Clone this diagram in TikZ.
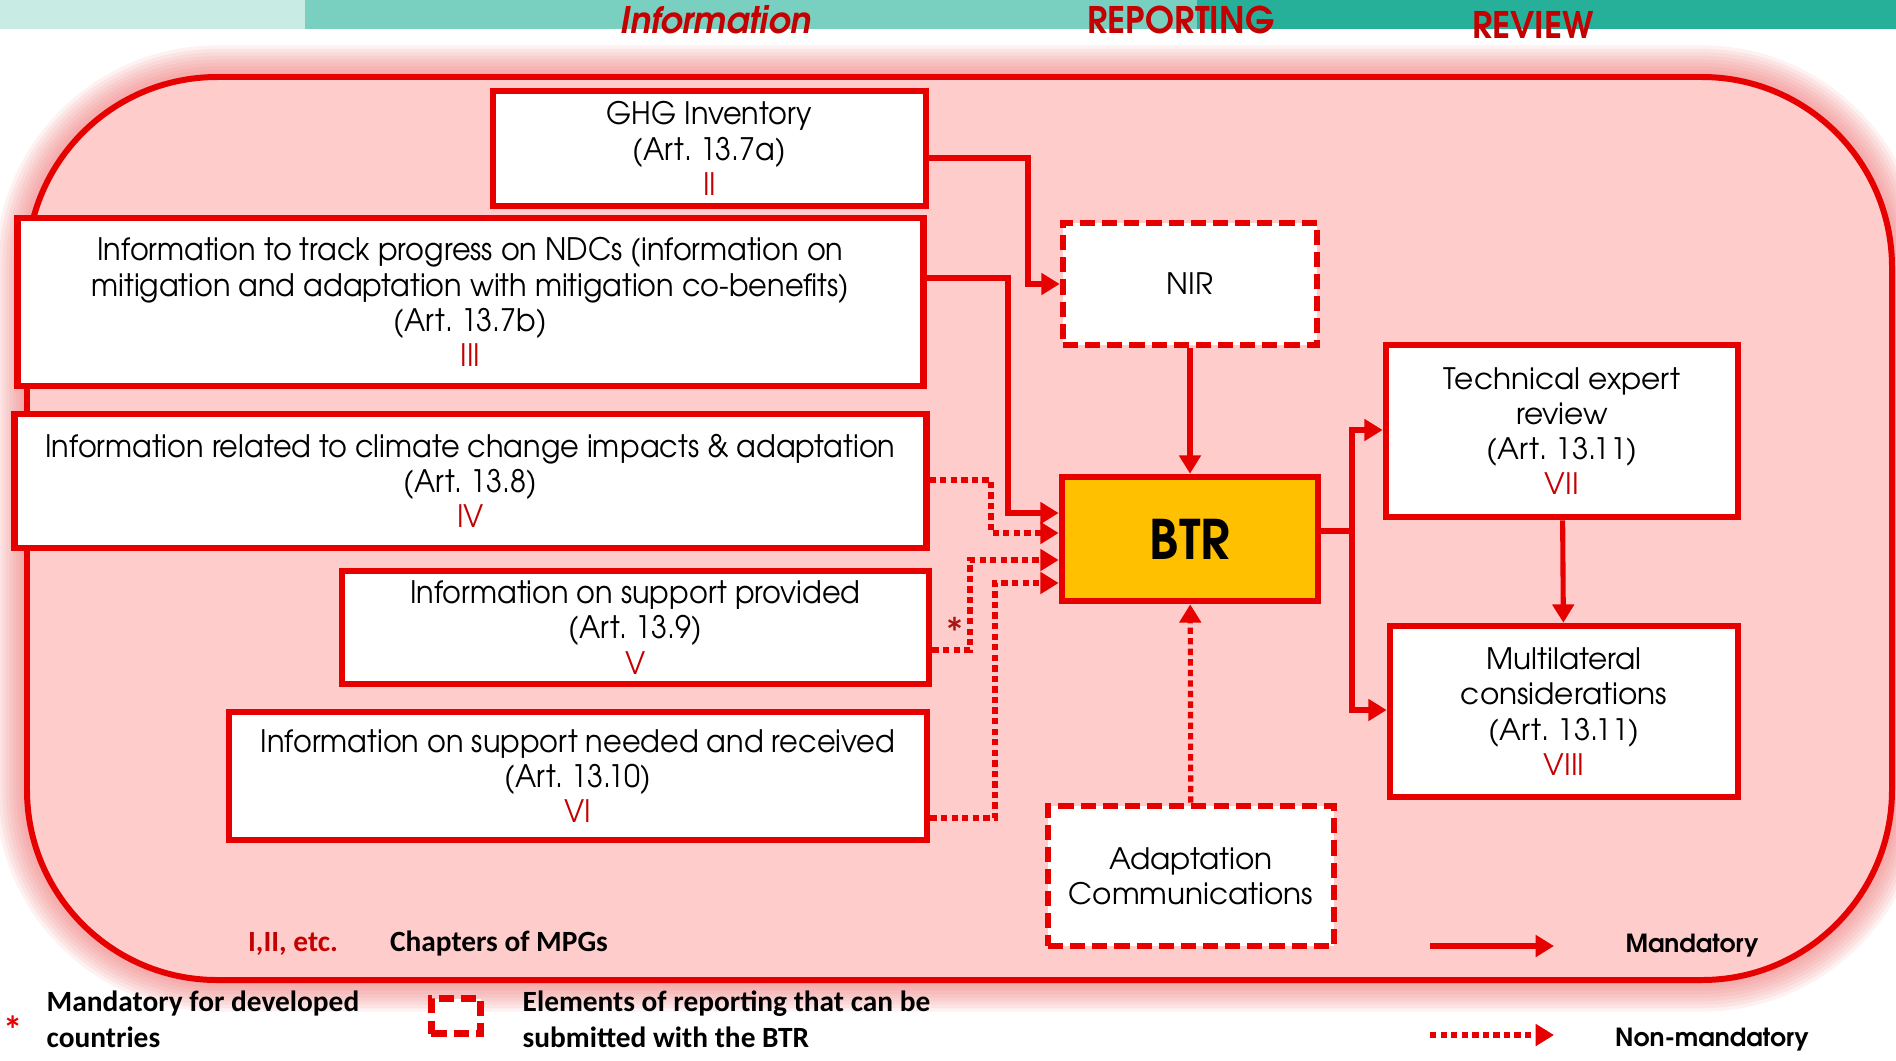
\documentclass[tikz,border=0pt]{standalone}
\usepackage{fontspec}
\usepackage{tikz}
\usetikzlibrary{arrows.meta,positioning,calc}
\newfontfamily\gothic{texgyreadventor}[Extension=.otf,UprightFont=*-regular,BoldFont=*-bold,ItalicFont=*-italic,BoldItalicFont=*-bolditalic]
\newfontfamily\gothicn{texgyreadventor}[Extension=.otf,UprightFont=*-regular,BoldFont=*-bold,ItalicFont=*-italic,BoldItalicFont=*-bolditalic,FakeStretch=0.93]
\newfontfamily\gothicb{texgyreadventor}[Extension=.otf,UprightFont=*-bold,ItalicFont=*-bolditalic,FakeStretch=0.95]
\newfontfamily\calib{Carlito}
\frenchspacing
\definecolor{redline}{RGB}{230,0,0}
\definecolor{numred}{RGB}{196,0,0}
\definecolor{pinkfill}{RGB}{255,204,204}
\definecolor{glowred}{RGB}{236,100,100}
\definecolor{btrfill}{RGB}{255,192,0}
\definecolor{teala}{RGB}{200,235,228}
\definecolor{tealb}{RGB}{122,208,192}
\definecolor{tealc}{RGB}{38,176,154}
\definecolor{bannerred}{RGB}{196,0,0}
\definecolor{starred}{RGB}{170,20,20}

\tikzset{
	infobox/.style={draw=redline,line width=1.85pt,fill=white,align=center,inner sep=0pt,font=\gothicn\fontsize{8.8}{10}\selectfont},
	revbox/.style={infobox,font=\gothic\fontsize{8.4}{10}\selectfont},
	optbox/.style={revbox,dash pattern=on 4.3pt off 2pt},
	mainbox/.style={infobox,fill=btrfill,font=\gothicn\bfseries\fontsize{15.5}{17}\selectfont},
	mandarrow/.style={draw=redline,line width=1.45pt,-{Triangle[length=5.2pt,width=6pt]}},
	optarrow/.style={mandarrow,dash pattern=on 1.8pt off 1.2pt},
	banner/.style={inner sep=0pt,text=bannerred,font=\gothicb\fontsize{10.4}{12}\selectfont},
	lgtext/.style={inner sep=0pt,align=left,font=\calib\bfseries\fontsize{8.35}{10.2}\selectfont},
	lgarrow/.style={inner sep=0pt,font=\gothic\bfseries\fontsize{7.1}{9}\selectfont}
}

\begin{document}
\begin{tikzpicture}[x=0.01cm,y=-0.01cm]
	\useasboundingbox (0,0) rectangle (1896,1060);
	\fill[teala] (0,0) rectangle (305,29);
	\fill[tealb] (305,0) rectangle (1197,29);
	\fill[tealc] (1197,0) rectangle (1896,29);
	\node[banner] (info) at (716,20) {\itshape Information};
	\node[banner] (rep) at (1181,20) {REPORTING};
	\node[banner] (rev) at (1533,25) {REVIEW};

	\foreach \w in {18,16,...,2}
		\draw[glowred,line width=\w pt,opacity=0.09,rounded corners=1.9cm] (27,77) rectangle (1892,980);
	\draw[draw=redline,fill=pinkfill,line width=1.7pt,rounded corners=1.9cm] (27,77) rectangle (1892,980);

	\node[infobox,minimum width=4.33cm,minimum height=1.15cm] (ghg) at (709.5,148.5) {GHG Inventory\\(Art. 13.7a)\\\textcolor{numred}{II}};
	\node[infobox,minimum width=9.05cm,minimum height=1.68cm] (ndc) at (470.5,302) {Information to track progress on NDCs (information on\\mitigation and adaptation with mitigation co-benefits)\\(Art. 13.7b)\\\textcolor{numred}{III}};
	\node[infobox,minimum width=9.11cm,minimum height=1.34cm] (cci) at (470.5,481) {Information related to climate change impacts \& adaptation\\(Art. 13.8)\\\textcolor{numred}{IV}};
	\node[infobox,minimum width=5.87cm,minimum height=1.13cm] (supp) at (635.5,627.5) {Information on support provided\\(Art. 13.9)\\\textcolor{numred}{V}};
	\node[infobox,minimum width=6.98cm,minimum height=1.28cm] (need) at (578,776) {Information on support needed and received\\(Art. 13.10)\\\textcolor{numred}{VI}};
	\node[optbox,minimum width=2.54cm,minimum height=1.22cm] (nir) at (1190,284) {NIR};
	\node[mainbox,minimum width=2.56cm,minimum height=1.24cm] (btr) at (1190,539) {BTR};
	\node[revbox,minimum width=3.52cm,minimum height=1.72cm] (ter) at (1562,431) {Technical expert\\review\\(Art. 13.11)\\\textcolor{numred}{VII}};
	\node[revbox,minimum width=3.48cm,minimum height=1.71cm] (mult) at (1564,711.5) {Multilateral\\considerations\\(Art. 13.11)\\\textcolor{numred}{VIII}};
	\node[optbox,minimum width=2.86cm,minimum height=1.40cm] (adapt) at (1191,876) {Adaptation\\Communications};

	\draw[mandarrow] (ghg.east |- 0,158) -| (1028,284) -- (nir.west);
	\draw[mandarrow] (ndc.east |- 0,278) -| (1008,513) -- (btr.west |- 0,513);
	\draw[mandarrow] (nir) -- (btr);
	\draw[mandarrow] (btr.east |- 0,531) -| (1352,430) -- (ter.west |- 0,430);
	\draw[mandarrow] (btr.east |- 0,531) -| (1352,710) -- (mult.west |- 0,710);
	\draw[mandarrow] (ter) -- (mult);
	\draw[optarrow] (cci.east |- 0,480) -| (991,533) -- (btr.west |- 0,533);
	\draw[optarrow] (supp.east |- 0,650) -| (970,560) -- (btr.west |- 0,560);
	\draw[optarrow] (need.east |- 0,818) -| (995,583) -- (btr.west |- 0,583);
	\draw[optarrow] (adapt) -- (btr);
	\node[inner sep=0pt,text=starred,font=\calib\bfseries\fontsize{12}{12}\selectfont] (star) at (955,632) {*};

	\node[lgtext,text=numred] (chapnum) at (293,944) {I,II, etc.};
	\node[lgtext] (chaptxt) at (499,943) {Chapters of MPGs};
	\node[lgtext,text=redline,font=\calib\bfseries\fontsize{11}{12}\selectfont] (lgstar) at (13,1030) {*};
	\node[lgtext,anchor=west] (lgdev) at (46,1019) {Mandatory for developed\\countries};
	\node[optbox,line width=2.1pt,minimum width=0.49cm,minimum height=0.35cm] (lgbox) at (456,1016) {};
	\node[lgtext,anchor=west] (lgelem) at (522,1019) {Elements of reporting that can be\\submitted with the BTR};
	\coordinate (lgma) at (1430,946);
	\coordinate (lgmb) at (1554,946);
	\coordinate (lgna) at (1430,1035);
	\coordinate (lgnb) at (1554,1035);
	\draw[mandarrow] (lgma) -- (lgmb);
	\draw[optarrow] (lgna) -- (lgnb);
	\node[lgarrow] (lgmand) at (1692,946) {Mandatory};
	\node[lgarrow] (lgnon) at (1712,1040) {Non-mandatory};
\end{tikzpicture}
\end{document}
